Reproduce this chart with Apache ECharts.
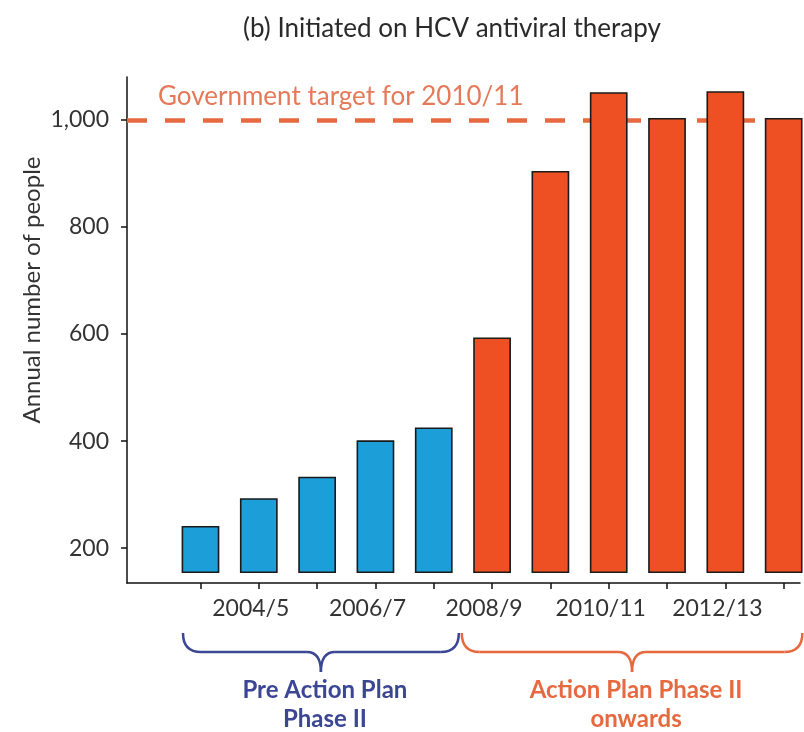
<!DOCTYPE html>
<html>
<head>
<meta charset="utf-8">
<script src="https://cdn.jsdelivr.net/npm/echarts@6/dist/echarts.min.js"></script>
<style>
html,body{margin:0;padding:0;background:#fff;}
#c{width:804px;height:732px;}
</style>
</head>
<body>
<div id="c"></div>
<script>
// ---- data ----
const categories = ['2003/4','2004/5','2005/6','2006/7','2007/8','2008/9','2009/10','2010/11','2011/12','2012/13','2013/14'];
const values = [240, 292, 332, 400, 424, 592, 903, 1050, 1002, 1052, 1002];
const phaseOfBar = ['pre','pre','pre','pre','pre','post','post','post','post','post','post'];
const yTickValues = [200, 400, 600, 800, 1000];
const xLabelCategories = ['2004/5','2006/7','2008/9','2010/11','2012/13'];
const targetValue = 1000;
const targetLabel = 'Government target for 2010/11';
const barBase = 155;
const phaseNames = {pre: ['Pre Action Plan', 'Phase II'], post: ['Action Plan Phase II', 'onwards']};

// ---- styles ----
const FONT = 'Lato, "Open Sans", sans-serif';
const BLUE = '#1c9ed9';
const ORANGE = '#ef5023';
const TARGET_COLOR = '#e6693f';
const TARGET_TEXT = '#e47a5a';
const NAVY = '#3b4795';

const chart = echarts.init(document.getElementById('c'), null, {renderer: 'canvas'});

const xIdx = categories.map((c, i) => i);
const xLabelIdx = xLabelCategories.map(c => categories.indexOf(c));

chart.setOption({
  animation: false,
  backgroundColor: '#fff',
  title: [{
    text: '(b) Initiated on HCV antiviral therapy',
    left: 447, top: 11, textAlign: 'center',
    textStyle: {fontFamily: FONT, fontSize: 26, fontWeight: 'normal', color: '#2a2a2a'}
  }, {
    text: targetLabel,
    left: 153, top: 79,
    textStyle: {fontFamily: FONT, fontSize: 26, fontWeight: 'normal', color: TARGET_TEXT}
  }],
  grid: {left: 127, right: 4, top: 77, bottom: 149, containLabel: false},
  xAxis: {
    type: 'value', min: -1.26, max: 10.28,
    splitLine: {show: false},
    axisLine: {show: true, onZero: false, lineStyle: {color: '#111', width: 1.5}},
    axisTick: {show: true, length: 6, lineStyle: {color: '#111', width: 1.5}, customValues: xIdx},
    axisLabel: {
      customValues: xLabelIdx,
      formatter: v => categories[Math.round(v)],
      fontFamily: FONT, fontSize: 23, color: '#333', margin: 14,
      padding: [0, 16, 0, 0]
    }
  },
  yAxis: {
    type: 'value', min: 135, max: 1080,
    splitLine: {show: false},
    axisLine: {show: true, onZero: false, lineStyle: {color: '#111', width: 1.5}},
    axisTick: {show: true, length: 6, lineStyle: {color: '#111', width: 1.5}, customValues: yTickValues},
    axisLabel: {
      customValues: yTickValues,
      formatter: v => v.toLocaleString('en-US'),
      fontFamily: FONT, fontSize: 23, color: '#333', margin: 18
    }
  },
  series: [{
    type: 'custom',
    z: 3,
    data: values.map((v, i) => [i, v]),
    renderItem: function (params, api) {
      const i = api.value(0);
      const top = api.coord([i, api.value(1)]);
      const bot = api.coord([i, barBase]);
      const w = api.size([0.62, 0])[0];
      return {
        type: 'rect',
        shape: {x: top[0] - w / 2, y: top[1], width: w, height: bot[1] - top[1]},
        style: {fill: phaseOfBar[i] === 'pre' ? BLUE : ORANGE, stroke: '#1a1a1a', lineWidth: 1.6}
      };
    }
  }, {
    type: 'line',
    z: 1,
    data: [],
    markLine: {
      z: 1,
      silent: true,
      symbol: 'none',
      label: {show: false},
      lineStyle: {color: TARGET_COLOR, width: 4.5, type: [20, 18]},
      data: [{yAxis: targetValue}]
    }
  }]
});

// ---- annotations: y-axis title and phase brackets, positioned through the chart's scales ----
function px(x, y) { return chart.convertToPixel({gridIndex: 0}, [x, y]); }
const graphics = [];
graphics.push({
  type: 'text', x: 32, y: 290, rotation: Math.PI / 2,
  style: {text: 'Annual number of people', fontFamily: FONT, fontSize: 24, fill: '#333', align: 'center', verticalAlign: 'middle'}
});
const groups = [
  {phase: 'pre', color: NAVY, lo: -0.3, hi: 4.43},
  {phase: 'post', color: TARGET_COLOR, lo: 4.48, hi: 10.32}
];
groups.forEach(g => {
  const x0 = px(g.lo, 0)[0], x1 = px(g.hi, 0)[0];
  const tip = (x0 + x1) / 2;
  const top = 633, mid = 652, bot = 672;
  const ls = {fill: null, stroke: g.color, lineWidth: 2.5};
  graphics.push({type: 'bezierCurve', shape: {x1: x0, y1: top, x2: x0 + 18, y2: mid, cpx1: x0, cpy1: mid}, style: ls});
  graphics.push({type: 'line', shape: {x1: x0 + 18, y1: mid, x2: tip - 14, y2: mid}, style: ls});
  graphics.push({type: 'bezierCurve', shape: {x1: tip - 14, y1: mid, x2: tip, y2: bot, cpx1: tip, cpy1: mid}, style: ls});
  graphics.push({type: 'bezierCurve', shape: {x1: tip, y1: bot, x2: tip + 14, y2: mid, cpx1: tip, cpy1: mid}, style: ls});
  graphics.push({type: 'line', shape: {x1: tip + 14, y1: mid, x2: x1 - 18, y2: mid}, style: ls});
  graphics.push({type: 'bezierCurve', shape: {x1: x1 - 18, y1: mid, x2: x1, y2: top, cpx1: x1, cpy1: mid}, style: ls});
  phaseNames[g.phase].forEach((t, k) => {
    graphics.push({
      type: 'text', x: tip + 4, y: 690 + k * 29,
      style: {text: t, fontFamily: FONT, fontSize: 24, fontWeight: 'bold', fill: g.color, align: 'center', verticalAlign: 'middle'}
    });
  });
});
chart.setOption({graphic: graphics});
</script>
</body>
</html>
